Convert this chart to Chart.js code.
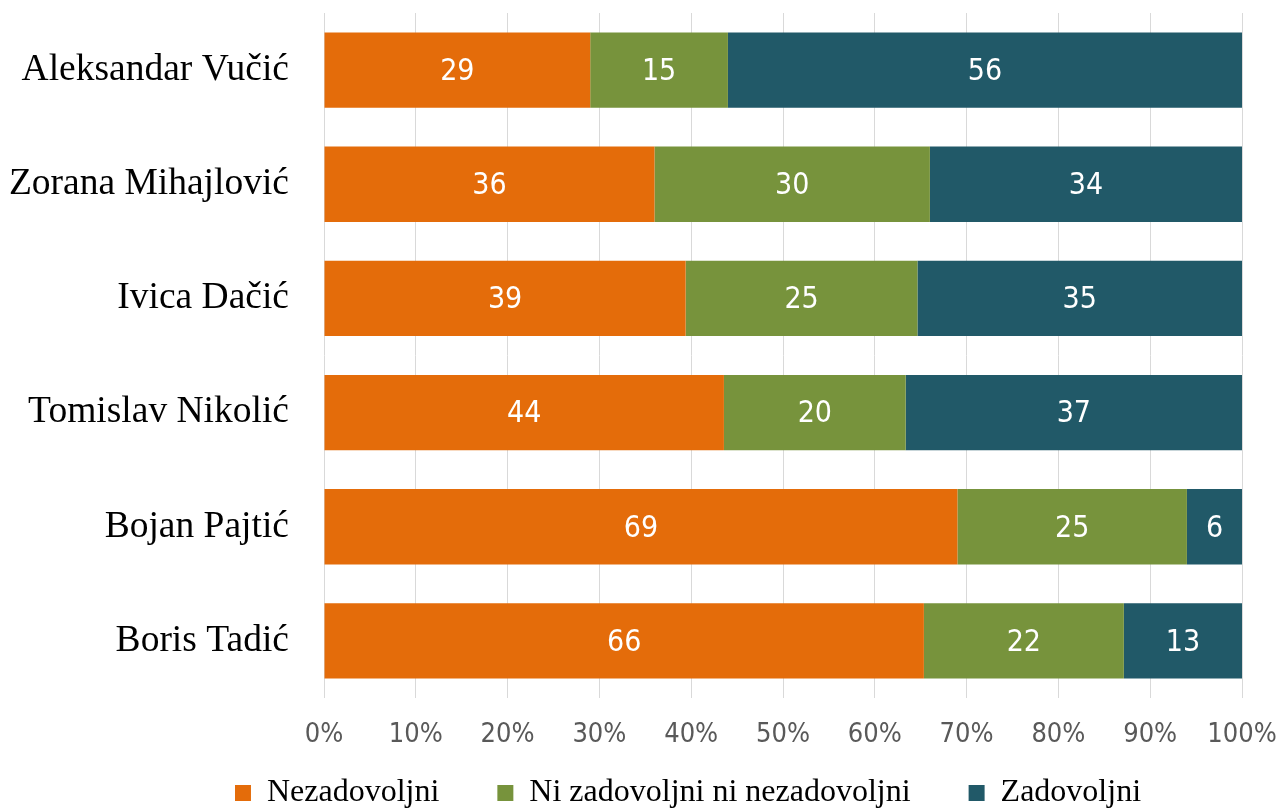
<!DOCTYPE html>
<html>
<head>
    <title>Zadovoljstvo radom</title>
    <meta charset="utf-8" />
    <style>
        html, body { margin: 0; padding: 0; background: #fff; }
        #wrap { width: 1279px; height: 810px; }
    </style>
</head>
<body>
<div id="wrap"><canvas id="chart" width="1279" height="810"></canvas></div>

<script src="https://cdn.jsdelivr.net/npm/chart.js@4.4.0/dist/chart.umd.min.js"></script>
<script>
    // data (labels show the rounded survey numbers)
    var names = ['Aleksandar Vučić', 'Zorana Mihajlović', 'Ivica Dačić', 'Tomislav Nikolić', 'Bojan Pajtić', 'Boris Tadić'];
    var nezadovoljni = [29, 36, 39, 44, 69, 66];
    var niNi = [15, 30, 25, 20, 25, 22];
    var zadovoljni = [56, 34, 35, 37, 6, 13];
    var xTicks = [0, 10, 20, 30, 40, 50, 60, 70, 80, 90, 100];

    // 100% stacked: scale each row to its own total
    function share(arr) {
        return arr.map(function (v, i) {
            return v / (nezadovoljni[i] + niNi[i] + zadovoljni[i]) * 100;
        });
    }

    var raw = [nezadovoljni, niNi, zadovoljni];

    // white numbers inside the bars
    var barLabels = {
        id: 'barLabels',
        afterDatasetsDraw: function (chart) {
            var ctx = chart.ctx;
            ctx.save();
            ctx.fillStyle = '#ffffff';
            ctx.font = '30px "DejaVu Sans Condensed", "Noto Sans", sans-serif';
            ctx.textAlign = 'center';
            ctx.textBaseline = 'middle';
            chart.data.datasets.forEach(function (ds, d) {
                chart.getDatasetMeta(d).data.forEach(function (bar, i) {
                    var x = (bar.x + bar.base) / 2;
                    ctx.fillText(String(raw[d][i]), x, bar.y + 2);
                });
            });
            ctx.restore();
        }
    };

    // legend sits a bit right of centre, like the original
    var legendSpot = {
        id: 'legendSpot',
        afterLayout: function (chart) {
            var lg = chart.legend;
            lg.left = 134;
            lg.right = 1242;
            lg.width = lg.right - lg.left;
            lg.top = 719;
        }
    };

    // no extra room for overhanging labels, the plot box is fixed
    function noPad(axis) {
        axis.paddingTop = 0;
        axis.paddingBottom = 0;
        axis.paddingLeft = 0;
        axis.paddingRight = 0;
    }

    var tickFont = { family: '"DejaVu Sans Condensed", "Noto Sans", sans-serif', size: 27 };
    var serif = '"Liberation Serif", "Times New Roman", serif';

    new Chart(document.getElementById('chart'), {
        type: 'bar',
        data: {
            labels: names,
            datasets: [
                { label: 'Nezadovoljni', data: share(nezadovoljni), backgroundColor: '#E46C0A' },
                { label: 'Ni zadovoljni ni nezadovoljni', data: share(niNi), backgroundColor: '#77933C' },
                { label: 'Zadovoljni', data: share(zadovoljni), backgroundColor: '#215968' }
            ]
        },
        options: {
            indexAxis: 'y',
            responsive: false,
            animation: false,
            barPercentage: 0.66,
            categoryPercentage: 1,
            layout: { autoPadding: false, padding: { left: 0, right: 37, top: 13, bottom: 0 } },
            scales: {
                x: {
                    stacked: true,
                    min: 0,
                    max: 100,
                    afterBuildTicks: function (axis) {
                        axis.ticks = xTicks.map(function (v) { return { value: v }; });
                    },
                    ticks: {
                        callback: function (v) { return v + '%'; },
                        color: '#595959',
                        font: tickFont,
                        padding: 21,
                        maxRotation: 0
                    },
                    grid: { color: '#D9D9D9', lineWidth: 1, drawTicks: false },
                    border: { display: false },
                    afterFit: function (axis) { axis.height = 70; noPad(axis); }
                },
                y: {
                    stacked: true,
                    ticks: {
                        color: '#000000',
                        font: { family: serif, size: 37.5 },
                        padding: 27
                    },
                    grid: { display: false },
                    border: { display: false },
                    afterFit: function (axis) { axis.width = 324; noPad(axis); }
                }
            },
            plugins: {
                legend: {
                    position: 'bottom',
                    maxHeight: 42,
                    labels: {
                        boxWidth: 16,
                        boxHeight: 16,
                        padding: 58,
                        color: '#000000',
                        font: { family: serif, size: 32 }
                    }
                },
                tooltip: { enabled: false }
            }
        },
        plugins: [barLabels, legendSpot]
    });
</script>
</body>
</html>
